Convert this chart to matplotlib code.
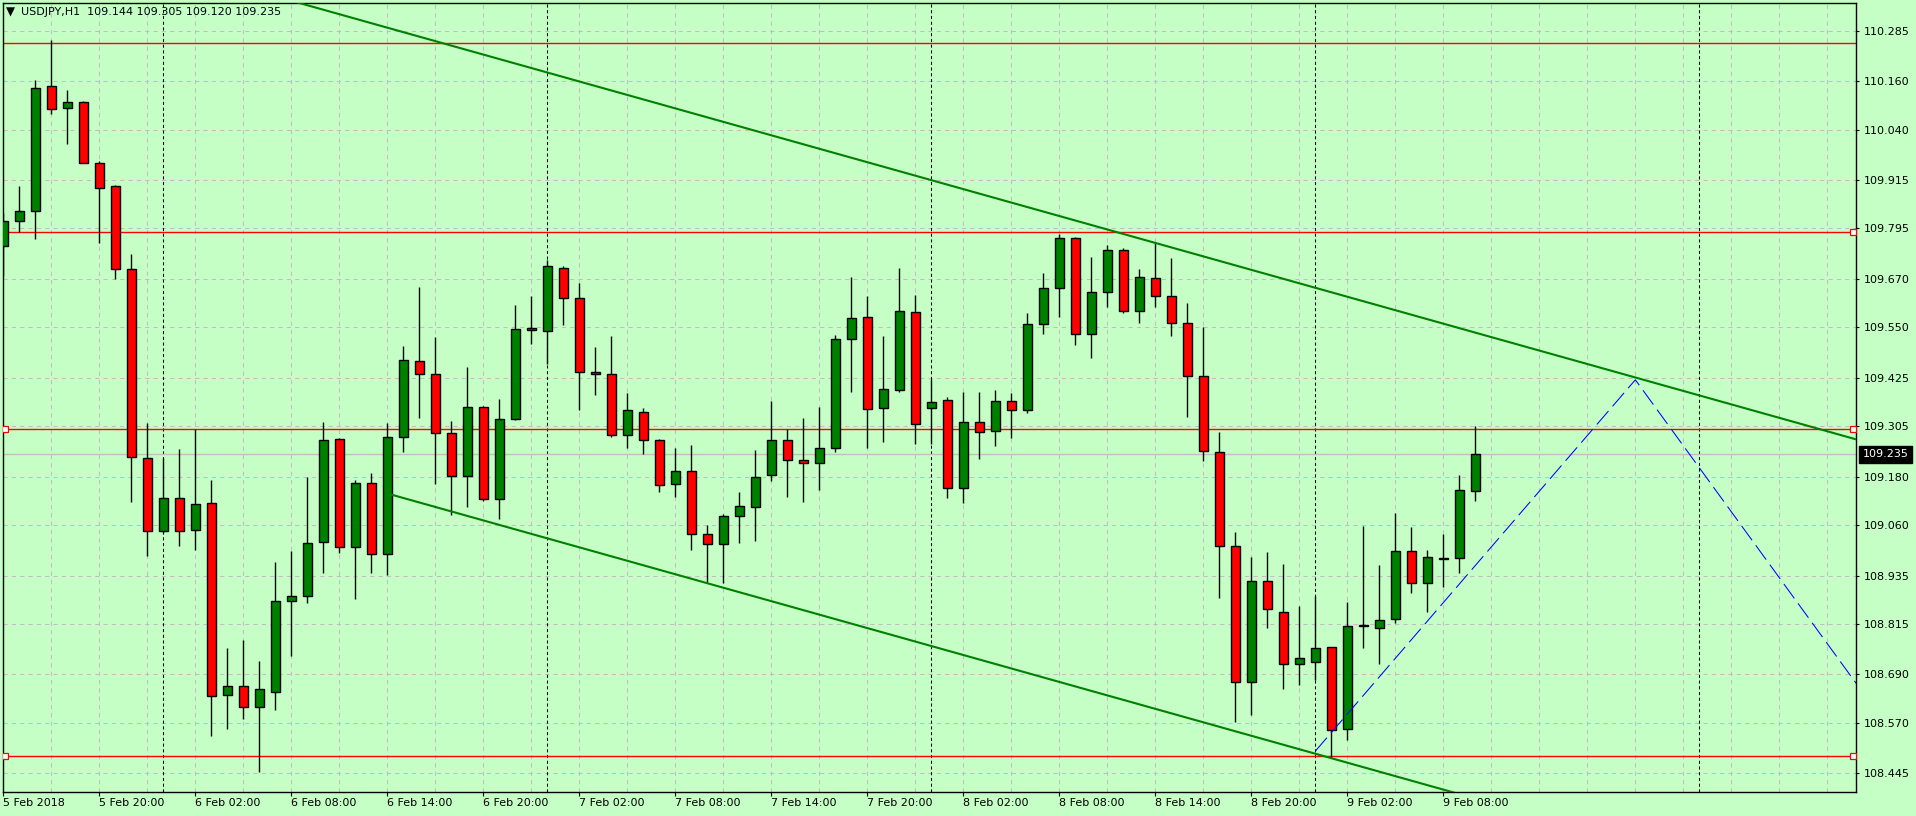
import matplotlib
matplotlib.use("Agg")
import matplotlib.pyplot as plt
from matplotlib.patches import Rectangle

W, H, DPI = 1916, 816, 100
BG = "#C5FFC5"
GRID = "#C8B8C8"
BULL = "#008000"
BEAR = "#FF0000"

# USDJPY H1 bars, first bar = 5 Feb 2018 14:00
opens = [109.752, 109.813, 109.839, 110.147, 110.093, 110.108, 109.956, 109.899, 109.694, 109.226,
         109.046, 109.126, 109.049, 109.114, 108.638, 108.661, 108.609, 108.646, 108.871, 108.884,
         109.017, 109.273, 109.005, 109.164, 108.988, 109.278, 109.467, 109.434, 109.288, 109.181,
         109.352, 109.124, 109.322, 109.548, 109.540, 109.696, 109.622, 109.439, 109.434, 109.283,
         109.340, 109.270, 109.161, 109.193, 109.037, 109.012, 109.082, 109.104, 109.183, 109.270,
         109.221, 109.213, 109.250, 109.520, 109.575, 109.349, 109.394, 109.587, 109.349, 109.369,
         109.151, 109.315, 109.292, 109.367, 109.344, 109.558, 109.647, 109.771, 109.533, 109.637,
         109.741, 109.590, 109.672, 109.627, 109.562, 109.429, 109.240, 109.008, 108.671, 108.921,
         108.844, 108.715, 108.720, 108.757, 108.554, 108.809, 108.804, 108.827, 108.995, 108.916,
         108.977, 108.978, 109.144]
highs = [109.833, 109.900, 110.163, 110.262, 110.138, 110.110, 109.962, 109.903, 109.731, 109.314,
         109.226, 109.249, 109.297, 109.172, 108.756, 108.775, 108.724, 108.969, 108.996, 109.180,
         109.316, 109.275, 109.172, 109.189, 109.312, 109.504, 109.650, 109.525, 109.318, 109.452,
         109.355, 109.372, 109.605, 109.628, 109.717, 109.701, 109.659, 109.501, 109.529, 109.388,
         109.349, 109.274, 109.252, 109.259, 109.060, 109.087, 109.141, 109.245, 109.367, 109.297,
         109.325, 109.352, 109.530, 109.674, 109.627, 109.528, 109.696, 109.629, 109.421, 109.377,
         109.389, 109.389, 109.394, 109.387, 109.585, 109.684, 109.781, 109.773, 109.724, 109.753,
         109.746, 109.694, 109.758, 109.721, 109.610, 109.550, 109.290, 109.042, 108.981, 108.993,
         108.963, 108.859, 108.884, 108.757, 108.870, 109.059, 108.961, 109.090, 109.055, 108.998,
         109.038, 109.183, 109.305]
lows = [109.676, 109.786, 109.770, 110.079, 110.004, 109.956, 109.758, 109.671, 109.118, 108.984,
        109.040, 109.007, 108.998, 108.538, 108.556, 108.580, 108.449, 108.603, 108.736, 108.866,
        108.942, 108.992, 108.878, 108.942, 108.937, 109.240, 109.325, 109.161, 109.086, 109.106,
        109.120, 109.076, 109.320, 109.509, 109.458, 109.557, 109.346, 109.382, 109.278, 109.250,
        109.235, 109.141, 109.129, 108.998, 108.918, 108.916, 109.015, 109.020, 109.169, 109.129,
        109.117, 109.146, 109.240, 109.389, 109.250, 109.265, 109.391, 109.260, 109.260, 109.126,
        109.114, 109.223, 109.255, 109.275, 109.337, 109.533, 109.575, 109.506, 109.473, 109.601,
        109.585, 109.562, 109.600, 109.528, 109.327, 109.218, 108.880, 108.573, 108.590, 108.804,
        108.653, 108.663, 108.676, 108.484, 108.528, 108.755, 108.715, 108.817, 108.891, 108.845,
        108.906, 108.942, 109.120]
closes = [109.813, 109.839, 110.142, 110.090, 110.108, 109.958, 109.896, 109.694, 109.228, 109.046,
          109.126, 109.046, 109.112, 108.636, 108.661, 108.609, 108.653, 108.871, 108.884, 109.015,
          109.270, 109.005, 109.164, 108.988, 109.278, 109.469, 109.434, 109.288, 109.181, 109.352,
          109.124, 109.322, 109.545, 109.543, 109.701, 109.622, 109.439, 109.434, 109.283, 109.345,
          109.270, 109.159, 109.193, 109.037, 109.012, 109.082, 109.107, 109.178, 109.270, 109.221,
          109.213, 109.250, 109.520, 109.572, 109.347, 109.398, 109.590, 109.310, 109.364, 109.151,
          109.315, 109.290, 109.367, 109.344, 109.558, 109.647, 109.771, 109.533, 109.637, 109.741,
          109.590, 109.674, 109.627, 109.562, 109.429, 109.243, 109.008, 108.671, 108.921, 108.851,
          108.715, 108.730, 108.755, 108.552, 108.809, 108.812, 108.824, 108.995, 108.916, 108.980,
          108.979, 109.146, 109.235]

time_labels = ["5 Feb 2018", "5 Feb 20:00", "6 Feb 02:00", "6 Feb 08:00", "6 Feb 14:00",
               "6 Feb 20:00", "7 Feb 02:00", "7 Feb 08:00", "7 Feb 14:00", "7 Feb 20:00",
               "8 Feb 02:00", "8 Feb 08:00", "8 Feb 14:00", "8 Feb 20:00", "9 Feb 02:00",
               "9 Feb 08:00"]
price_ticks = [110.285, 110.160, 110.040, 109.915, 109.795, 109.670, 109.550, 109.425,
               109.305, 109.180, 109.060, 108.935, 108.815, 108.690, 108.570, 108.445]

red_levels = [110.255, 109.786, 109.298, 108.487]
bid = 109.235
day_breaks = [10, 34, 58, 82, 106]          # bar index of midnight
upper_line = ([20, 100], [110.337, 109.448])
lower_line = ([24.3, 104], [109.135, 108.249])
blue_path = ([82, 102, 116], [108.500, 109.420, 108.657])

n_bars = len(opens)
x_left, x_right = -0.0375, 115.79
y_bot, y_top = 108.3987, 110.3544

plt.rcParams["font.family"] = ["DejaVu Sans"]
fig = plt.figure(figsize=(W / DPI, H / DPI), dpi=DPI, facecolor=BG)
ax = fig.add_axes([2.7 / W, 1 - 792 / H, (1856 - 2.7) / W, (792 - 2.7) / H])
ax.set_facecolor(BG)
ax.set_xlim(x_left, x_right)
ax.set_ylim(y_bot, y_top)

# grid
for v in price_ticks:
    ax.axhline(v, color=GRID, lw=0.75, ls=(0, (4, 4)), zorder=1)
for k in range(0, int(x_right) + 1, 3):
    ax.axvline(k, color=GRID, lw=0.75, ls=(0, (4, 4)), zorder=1)
for k in day_breaks:
    ax.axvline(k, color="black", lw=0.75, ls=(0, (3, 2.5)), zorder=2)

# horizontal levels
for v in red_levels:
    ax.axhline(v, color=BEAR, lw=1.0, zorder=2)
ax.axhline(bid, color="#C0C0C0", lw=1.0, zorder=2)
marker_style = dict(marker="s", ms=4.2, mfc="white", mec=BEAR, mew=0.9, ls="none", zorder=6)
ax.plot([x_right - 0.16] * 3, red_levels[1:], **marker_style)
ax.plot([0.13] * 2, red_levels[2:], **marker_style)

# candles
bw = 0.58
for i in range(n_bars):
    o, h, l, c = opens[i], highs[i], lows[i], closes[i]
    ax.vlines(i, l, h, color="black", lw=1.0, zorder=3)
    col = BULL if c >= o else BEAR
    ax.add_patch(Rectangle((i - bw / 2, min(o, c)), bw, abs(c - o), facecolor=col,
                           edgecolor="black", lw=1.0, zorder=4))

# channel and projection
def line_at(pts, x):
    (x0, x1), (y0, y1) = pts
    return y0 + (y1 - y0) / (x1 - x0) * (x - x0)

ax.plot([0, 130], [line_at(upper_line, 0), line_at(upper_line, 130)], color=BULL, lw=1.5, zorder=5)
ax.plot([lower_line[0][0], 130], [lower_line[1][0], line_at(lower_line, 130)],
        color=BULL, lw=1.5, zorder=5)
ax.plot(blue_path[0], blue_path[1], color="#0000FF", lw=0.75, ls=(0, (17, 6)), zorder=5)

# axes styling
for side in ["left", "right", "top", "bottom"]:
    ax.spines[side].set_color("black")
    ax.spines[side].set_linewidth(1.0)
ax.yaxis.tick_right()
ax.set_yticks(price_ticks)
ax.set_yticklabels([f"{v:.3f}" for v in price_ticks])
ax.tick_params(axis="y", direction="out", length=2.5, width=0.8, pad=3, labelsize=8,
               colors="black")
ax.set_xticks(range(0, 6 * len(time_labels), 6))
ax.set_xticklabels(time_labels, ha="left")
ax.tick_params(axis="x", direction="out", length=3, width=0.8, pad=1.5, labelsize=8,
               colors="black")

# current price tag
ax.text(1.0036, bid, f"{bid:.3f}", transform=ax.get_yaxis_transform(), ha="left",
        va="center", fontsize=8, color="white",
        bbox=dict(boxstyle="square,pad=0.3", facecolor="black", edgecolor="black"))

# header
fig.text(10 / W, 1 - 12.5 / H, "\u25bc", fontsize=8.5, ha="center", va="center")
fig.text(21 / W, 1 - 12 / H, "USDJPY,H1  109.144 109.305 109.120 109.235", fontsize=8,
         ha="left", va="center", color="#000010")

fig.savefig("out.png", dpi=DPI, facecolor=BG)
